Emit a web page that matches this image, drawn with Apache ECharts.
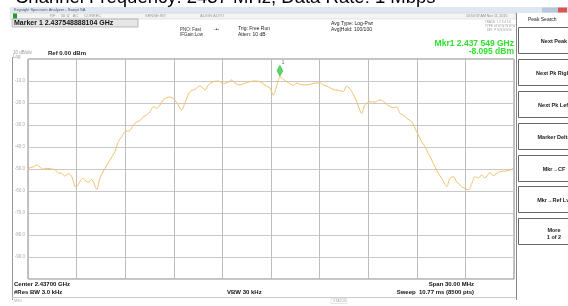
<!DOCTYPE html>
<html>
<head>
<meta charset="utf-8">
<script src="https://cdn.jsdelivr.net/npm/echarts@6/dist/echarts.min.js"></script>
<style>
  html, body { margin: 0; padding: 0; background: #fff; }
  #main { width: 568px; height: 306px; }
</style>
</head>
<body>
<div id="main"></div>
<script>
// trace: offset from centre 2437 MHz (MHz) and level (dBm)
var freqOffset = [
  -15.0, -14.67, -14.46, -14.26, -14.06, -13.85, -13.54, -13.33, -13.13, -12.92,
  -12.72, -12.51, -12.30, -12.04, -11.89, -11.62, -11.42, -11.28, -11.07, -10.76,
  -10.56, -10.25, -9.94, -9.63, -9.43, -9.22, -9.01, -8.70, -8.50, -8.29,
  -8.09, -7.88, -7.67, -7.47, -7.26, -7.06, -6.85, -6.65, -6.44, -6.23,
  -6.03, -5.82, -5.51, -5.31, -5.00, -4.69, -4.38, -4.07, -3.87, -3.56,
  -3.25, -2.94, -2.64, -2.43, -2.22, -1.91, -1.60, -1.30, -0.99, -0.68,
  -0.37, -0.06, 0.14, 0.39, 0.55, 0.86, 1.07, 1.38, 1.59, 1.79,
  2.10, 2.41, 2.72, 3.03, 3.23, 3.54, 3.85, 4.16, 4.47, 4.67,
  4.98, 5.29, 5.60, 5.80, 6.11, 6.42, 6.73, 7.03, 7.35, 7.55,
  7.76, 7.96, 8.17, 8.38, 8.69, 8.89, 9.09, 9.30, 9.51, 9.71,
  9.92, 10.12, 10.33, 10.54, 10.85, 11.05, 11.26, 11.46, 11.77, 12.18,
  12.39, 12.59, 12.80, 13.01, 13.21, 13.52, 13.72, 13.93, 14.14, 14.44,
  14.75, 14.96
];
var levelDbm = [
  -49.7, -49.0, -48.2, -49.2, -50.1, -49.7, -50.0, -50.3, -51.7, -52.0,
  -53.2, -52.0, -53.5, -58.3, -57.0, -54.2, -55.5, -56.0, -54.8, -59.2,
  -54.2, -49.7, -45.9, -42.1, -37.6, -35.3, -33.0, -32.5, -30.0, -28.6,
  -28.0, -26.2, -25.5, -23.9, -21.7, -22.4, -20.9, -18.6, -17.6, -17.3,
  -17.9, -19.8, -23.2, -19.8, -14.8, -13.8, -12.2, -14.1, -11.8, -10.3,
  -10.0, -11.2, -10.5, -9.5, -11.0, -11.8, -11.0, -10.3, -10.0, -10.3,
  -11.8, -13.3, -16.4, -11.2, -8.1, -9.8, -10.8, -12.0, -11.0, -11.5,
  -11.8, -11.5, -11.0, -10.8, -11.8, -12.6, -13.9, -14.2, -14.8, -12.3,
  -14.8, -19.4, -24.7, -20.8, -19.4, -19.6, -18.6, -19.8, -21.7, -22.1,
  -21.8, -24.7, -25.5, -27.0, -28.6, -31.5, -34.5, -37.6, -39.9, -42.9,
  -45.9, -49.0, -52.0, -54.2, -58.0, -54.2, -53.5, -55.8, -58.0, -59.5,
  -56.7, -53.5, -54.0, -52.7, -54.0, -51.7, -53.0, -52.0, -51.2, -51.0,
  -50.5, -49.7
];
var yTicks = [-10, -20, -30, -40, -50, -60, -70, -80, -90];
var marker = { offset: 0.549, level: -8.095 };

var softkeys = [
  ['Next Peak', ''], ['Next Pk Right', ''], ['Next Pk Left', ''],
  ['Marker Delta', ''], ['Mkr\u2192CF', ''], ['Mkr\u2192Ref Lvl', ''], ['More', '1 of 2']
];
var keyTops = [27, 59, 91, 123, 155, 186, 218];

var trace = freqOffset.map(function (f, i) { return [f, levelDbm[i]]; });

var chart = echarts.init(document.getElementById('main'));

var font = '"Liberation Sans", "DejaVu Sans", Arial, sans-serif';
var graphics = [
  // cropped slide title above the window
  { type: 'text', left: 15, top: -12, style: { text: 'Channel Frequency: 2437 MHz, Data Rate: 1 Mbps', fill: '#000', font: '18.5px ' + font } },
  // window title bar
  { type: 'rect', shape: { x: 10, y: 7, width: 558, height: 6 }, style: { fill: '#dfe7f1' } },
  { type: 'text', left: 14, top: 7.5, style: { text: 'Keysight Spectrum Analyzer - Swept SA', fill: '#556', font: '4px ' + font } },
  { type: 'rect', shape: { x: 542, y: 7.5, width: 16, height: 5 }, style: { fill: '#b8c8dc' } },
  { type: 'rect', shape: { x: 558, y: 7.5, width: 9, height: 5 }, style: { fill: '#d9534f' } },
  // status strip
  { type: 'rect', shape: { x: 10, y: 13, width: 506, height: 6 }, style: { fill: '#f4f4f4', stroke: '#ccc', lineWidth: 0.5 } },
  { type: 'rect', shape: { x: 13, y: 13.5, width: 4, height: 5 }, style: { fill: '#2a9a2a' } },
  { type: 'text', left: 50, top: 14, style: { text: 'RF     50 \u03a9   AC     CORREC', fill: '#999', font: '4px ' + font } },
  { type: 'text', left: 145, top: 14, style: { text: 'SENSE:INT', fill: '#999', font: '4px ' + font } },
  { type: 'text', left: 200, top: 14, style: { text: 'ALIGN AUTO', fill: '#999', font: '4px ' + font } },
  { type: 'text', left: 466, top: 14, style: { text: '10:53:37 AM Nov 11, 2015', fill: '#888', font: '3.5px ' + font } },
  { type: 'text', left: 485, top: 20, style: { text: 'TRACE  1 2 3 4 5 6\nTYPE  M W W W W W\n  DET  P N N N N N', fill: '#999', font: '3px ' + font, lineHeight: 4 } },
  // marker frequency box
  { type: 'rect', shape: { x: 12, y: 19, width: 126, height: 8 }, style: { fill: '#e6e6e6', stroke: '#999', lineWidth: 0.6 } },
  { type: 'text', left: 14, top: 20, style: { text: 'Marker 1 2.437548888104 GHz', fill: '#111', font: 'bold 7px ' + font } },
  { type: 'text', left: 180, top: 27, style: { text: 'PNO: Fast\nIFGain:Low', fill: '#333', font: '4.5px ' + font, lineHeight: 5 } },
  { type: 'text', left: 214, top: 27, style: { text: '-\u2022-', fill: '#333', font: '5px ' + font } },
  { type: 'text', left: 238, top: 26, style: { text: 'Trig: Free Run\nAtten: 10 dB', fill: '#222', font: '5px ' + font, lineHeight: 5.5 } },
  { type: 'text', left: 331, top: 21, style: { text: 'Avg Type: Log-Pwr\nAvg|Hold: 100/100', fill: '#222', font: '5px ' + font, lineHeight: 5.5 } },
  // green marker readout
  { type: 'text', right: 54, top: 39, style: { text: 'Mkr1 2.437 549 GHz', fill: '#2fe02f', font: 'bold 8.5px ' + font, align: 'right' } },
  { type: 'text', right: 54, top: 47, style: { text: '-8.095 dBm', fill: '#2fe02f', font: 'bold 8.5px ' + font, align: 'right' } },
  // scale labels
  { type: 'text', left: 13, top: 50, style: { text: '10 dB/div\nLog', fill: '#999', font: '4.5px ' + font, lineHeight: 4 } },
  { type: 'text', left: 48, top: 50, style: { text: 'Ref 0.00 dBm', fill: '#222', font: 'bold 6px ' + font } },
  // left frame and bottom info
  { type: 'line', shape: { x1: 12.5, y1: 57, x2: 12.5, y2: 300 }, style: { stroke: '#999', lineWidth: 1 } },
  { type: 'line', shape: { x1: 12, y1: 297.5, x2: 516, y2: 297.5 }, style: { stroke: '#ccc', lineWidth: 1 } },
  { type: 'text', left: 14, top: 281, style: { text: 'Center 2.43700 GHz', fill: '#111', font: 'bold 6px ' + font } },
  { type: 'text', left: 14, top: 289, style: { text: '#Res BW 3.0 kHz', fill: '#111', font: 'bold 6px ' + font } },
  { type: 'text', left: 227, top: 289, style: { text: 'VBW 30 kHz', fill: '#111', font: 'bold 6px ' + font } },
  { type: 'text', right: 94, top: 281, style: { text: 'Span 30.00 MHz', fill: '#111', font: 'bold 6px ' + font, align: 'right' } },
  { type: 'text', right: 94, top: 289, style: { text: 'Sweep  10.77 ms (8500 pts)', fill: '#111', font: 'bold 6px ' + font, align: 'right' } },
  { type: 'text', left: 14, top: 299, style: { text: 'MSG', fill: '#aaa', font: '3.5px ' + font } },
  { type: 'rect', shape: { x: 331, y: 298.5, width: 16, height: 5 }, style: { fill: '#fff', stroke: '#ccc', lineWidth: 0.5 } },
  { type: 'text', left: 333, top: 299.5, style: { text: 'STATUS', fill: '#aaa', font: '3.5px ' + font } },
  // softkey panel
  { type: 'line', shape: { x1: 516.5, y1: 13, x2: 516.5, y2: 300 }, style: { stroke: '#888', lineWidth: 1 } },
  { type: 'text', left: 528, top: 17, style: { text: 'Peak Search', fill: '#222', font: '5px ' + font } }
];
softkeys.forEach(function (k, i) {
  var y = keyTops[i];
  graphics.push({ type: 'rect', shape: { x: 518.5, y: y + 0.5, width: 60, height: 26 }, style: { fill: '#fff', stroke: '#666', lineWidth: 1 } });
  graphics.push({
    type: 'text', x: 554, y: y + (k[1] ? 9 : 11),
    style: { text: k[0] + (k[1] ? '\n' + k[1] : ''), fill: '#222', font: 'bold 5.5px ' + font, align: 'center', lineHeight: 7 }
  });
});

var option = {
  animation: false,
  backgroundColor: '#fff',
  grid: { left: 28, top: 59, width: 486, height: 220, show: true, borderColor: '#888', borderWidth: 1 },
  xAxis: {
    type: 'value', min: -15, max: 15, interval: 3,
    axisLine: { show: false }, axisTick: { show: false }, axisLabel: { show: false },
    splitLine: { show: true, lineStyle: { color: '#bdbdbd', width: 1 } }
  },
  yAxis: {
    type: 'value', min: -100, max: 0, interval: 10,
    axisLine: { show: false }, axisTick: { show: false },
    axisLabel: {
      fontSize: 4.5, color: '#aaa', margin: 3, fontFamily: font,
      formatter: function (v) { return yTicks.indexOf(v) >= 0 ? v.toFixed(1) : ''; }
    },
    splitLine: { show: true, lineStyle: { color: '#c8c8c8', width: 1 } }
  },
  series: [
    {
      type: 'line', data: trace, showSymbol: false, smooth: 0.3,
      lineStyle: { color: '#f3c06e', width: 1 }, z: 3
    },
    {
      type: 'scatter', data: [[marker.offset, marker.level]],
      symbol: 'diamond', symbolSize: [6, 11], symbolOffset: [0, -6],
      itemStyle: { color: '#2ecc40', borderColor: '#1a9a2a', borderWidth: 0.5 },
      label: { show: true, formatter: '1', position: [5, -5], fontSize: 4.5, color: '#333' }, z: 4
    }
  ],
  graphic: graphics
};
chart.setOption(option);
</script>
</body>
</html>
